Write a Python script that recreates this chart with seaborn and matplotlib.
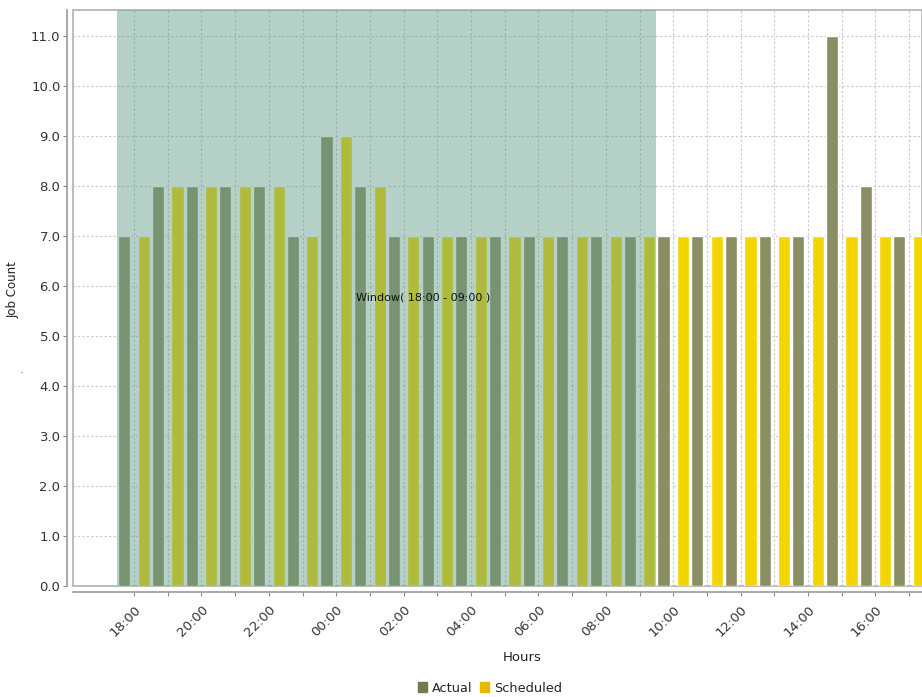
import pandas as pd
import matplotlib
matplotlib.use("Agg")
import matplotlib.pyplot as plt
import seaborn as sns
from matplotlib.patches import Patch

# hourly buckets shown on the x axis
hours = ["18:00", "19:00", "20:00", "21:00", "22:00", "23:00",
         "00:00", "01:00", "02:00", "03:00", "04:00", "05:00",
         "06:00", "07:00", "08:00", "09:00", "10:00", "11:00",
         "12:00", "13:00", "14:00", "15:00", "16:00", "17:00"]
actual = [7, 8, 8, 8, 8, 7, 9, 8, 7, 7, 7, 7,
          7, 7, 7, 7, 7, 7, 7, 7, 7, 11, 8, 7]
scheduled = [7, 8, 8, 8, 8, 7, 9, 8, 7, 7, 7, 7,
             7, 7, 7, 7, 7, 7, 7, 7, 7, 7, 7, 7]
series = ["Actual", "Scheduled"]
window_start, window_end = "18:00", "09:00"

df = pd.DataFrame({
    "Hours": hours * 2,
    "Job Count": actual + scheduled,
    "Series": [series[0]] * len(hours) + [series[1]] * len(hours),
})

sns.set_style("white")
plt.rcParams["font.family"] = ["DejaVu Sans"]

W, H = 922, 697
fig = plt.figure(figsize=(W / 100, H / 100), dpi=100)
ax = fig.add_axes([73 / W, 1 - 586 / H, (W - 73) / W, 576 / H])

sns.barplot(data=df, x="Hours", y="Job Count", hue="Series", order=hours,
            hue_order=series, palette={"Actual": "#8b8e62", "Scheduled": "#f3d600"},
            width=1.16, gap=0.38, saturation=1, legend=False, ax=ax)

# shaded batch window over the bars
i0, i1 = hours.index(window_start), hours.index(window_end)
ax.axvspan(i0 - 0.5, i1 + 0.5, color="#5f9a87", alpha=0.45, lw=0, zorder=3)
ax.text(6.6, 5.78, f"Window( {window_start} - {window_end} )", fontsize=8,
        va="center", ha="left", color="#111111", zorder=5)

ax.set_xlim(-1.81, 23.38)
ax.set_ylim(0, 11.52)

# spines first: moving a spine resets the tick objects
for s in ["top", "right"]:
    ax.spines[s].set_visible(False)
for s in ["left", "bottom"]:
    ax.spines[s].set_position(("outward", 4))
    ax.spines[s].set_color("#9a9a9a")
    ax.spines[s].set_linewidth(1.2)
ax.patch.set_edgecolor("#b0b0b0")
ax.patch.set_linewidth(1.2)

ax.tick_params(axis="both", bottom=True, left=True, length=3, width=0.8,
               color="#888888", labelsize=9.5, labelcolor="#333333", pad=2)
ax.tick_params(axis="x", pad=5, labelsize=9.5)

ax.set_yticks(range(0, 12))
ax.set_yticklabels([f"{v:.1f}" for v in range(0, 12)])
ax.set_xticks(range(len(hours)))
ax.set_xticklabels([h if i % 2 == 0 else "" for i, h in enumerate(hours)],
                   rotation=45, ha="right", va="top", rotation_mode="anchor")

ax.grid(True, color="#c8c8c8", linestyle=(0, (2, 2)), lw=0.8)
ax.set_axisbelow(True)

ax.set_xlabel("Hours", fontsize=9.5, color="#222222")
ax.xaxis.set_label_coords((522 - 73) / (W - 73), -0.112)
ax.set_ylabel("Job Count", fontsize=8.5, color="#222222")
ax.yaxis.set_label_coords(-0.063, 0.514)
fig.text(22 / W, 1 - 373 / H, ".", fontsize=8, color="#333333", ha="center")

handles = [Patch(color="#6f7b4d", label="Actual"), Patch(color="#e6b800", label="Scheduled")]
fig.legend(handles=handles, loc="center", bbox_to_anchor=(490 / W, 1 - 688 / H),
           ncol=2, frameon=False, fontsize=9.3, handlelength=0.7, handleheight=0.7,
           handletextpad=0.35, columnspacing=0.6)

fig.savefig("out.png", dpi=100)
